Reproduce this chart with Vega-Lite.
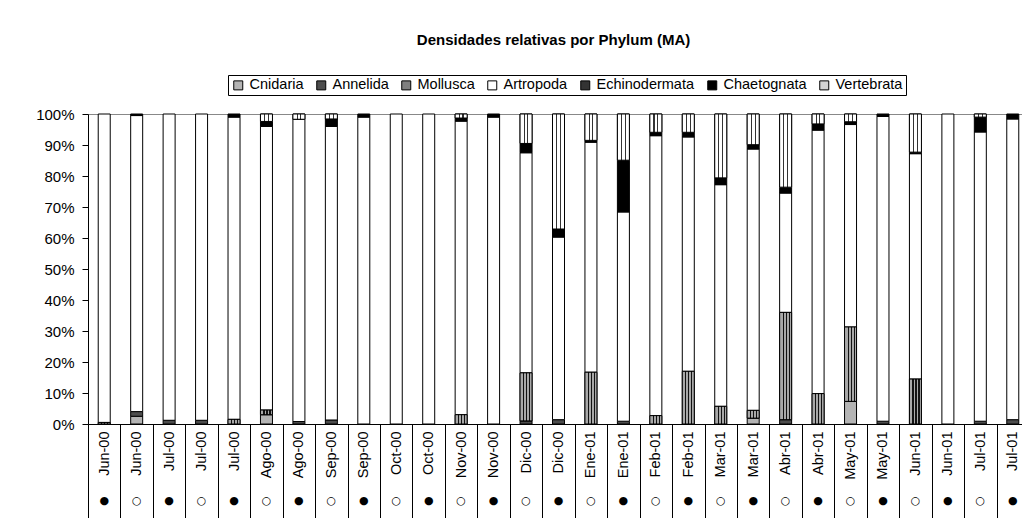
{
  "$schema": "https://vega.github.io/schema/vega-lite/v6.json",
  "width": 941,
  "height": 310,
  "autosize": {"type": "none"},
  "padding": {"left": 88, "top": 114, "right": 10, "bottom": 110},
  "background": "white",
  "title": {"text": "Densidades relativas por Phylum (MA)", "font": "Liberation Sans", "fontSize": 15, "fontWeight": "bold", "color": "black", "anchor": "middle", "offset": 27, "dx": -5},
  "data": {"values": [
    {"cat": "01|Jun-00|●", "Cnidaria": 0, "Annelida": 0, "Mollusca": 0.5, "Artropoda": 99.5, "Echinodermata": 0, "Chaetognata": 0, "Vertebrata": 0},
    {"cat": "02|Jun-00|○", "Cnidaria": 2.5, "Annelida": 1.5, "Mollusca": 0, "Artropoda": 95.5, "Echinodermata": 0, "Chaetognata": 0.5, "Vertebrata": 0},
    {"cat": "03|Jul-00|●", "Cnidaria": 0, "Annelida": 1.2, "Mollusca": 0, "Artropoda": 98.8, "Echinodermata": 0, "Chaetognata": 0, "Vertebrata": 0},
    {"cat": "04|Jul-00|○", "Cnidaria": 0, "Annelida": 1.2, "Mollusca": 0, "Artropoda": 98.8, "Echinodermata": 0, "Chaetognata": 0, "Vertebrata": 0},
    {"cat": "05|Jul-00|●", "Cnidaria": 0, "Annelida": 0, "Mollusca": 1.5, "Artropoda": 97.5, "Echinodermata": 0, "Chaetognata": 1.0, "Vertebrata": 0},
    {"cat": "06|Ago-00|○", "Cnidaria": 3, "Annelida": 0, "Mollusca": 1.5, "Artropoda": 91.5, "Echinodermata": 0, "Chaetognata": 1.6, "Vertebrata": 2.4},
    {"cat": "07|Ago-00|●", "Cnidaria": 0, "Annelida": 0.8, "Mollusca": 0, "Artropoda": 97.5, "Echinodermata": 0, "Chaetognata": 0, "Vertebrata": 1.7},
    {"cat": "08|Sep-00|○", "Cnidaria": 0, "Annelida": 1.3, "Mollusca": 0, "Artropoda": 94.7, "Echinodermata": 0, "Chaetognata": 2.4, "Vertebrata": 1.6},
    {"cat": "09|Sep-00|●", "Cnidaria": 0, "Annelida": 0, "Mollusca": 0, "Artropoda": 99, "Echinodermata": 0, "Chaetognata": 1, "Vertebrata": 0},
    {"cat": "10|Oct-00|○", "Cnidaria": 0, "Annelida": 0, "Mollusca": 0, "Artropoda": 100, "Echinodermata": 0, "Chaetognata": 0, "Vertebrata": 0},
    {"cat": "11|Oct-00|●", "Cnidaria": 0, "Annelida": 0, "Mollusca": 0, "Artropoda": 100, "Echinodermata": 0, "Chaetognata": 0, "Vertebrata": 0},
    {"cat": "12|Nov-00|○", "Cnidaria": 0, "Annelida": 0, "Mollusca": 3, "Artropoda": 94.7, "Echinodermata": 0, "Chaetognata": 1, "Vertebrata": 1.3},
    {"cat": "13|Nov-00|●", "Cnidaria": 0, "Annelida": 0, "Mollusca": 0, "Artropoda": 99, "Echinodermata": 0, "Chaetognata": 1, "Vertebrata": 0},
    {"cat": "14|Dic-00|○", "Cnidaria": 0, "Annelida": 1, "Mollusca": 15.5, "Artropoda": 71, "Echinodermata": 0, "Chaetognata": 3, "Vertebrata": 9.5},
    {"cat": "15|Dic-00|●", "Cnidaria": 0, "Annelida": 1.4, "Mollusca": 0, "Artropoda": 58.9, "Echinodermata": 0, "Chaetognata": 2.6, "Vertebrata": 37.1},
    {"cat": "16|Ene-01|○", "Cnidaria": 0, "Annelida": 0, "Mollusca": 16.7, "Artropoda": 74.2, "Echinodermata": 0, "Chaetognata": 0.6, "Vertebrata": 8.5},
    {"cat": "17|Ene-01|●", "Cnidaria": 0, "Annelida": 0.9, "Mollusca": 0, "Artropoda": 67.5, "Echinodermata": 0, "Chaetognata": 16.7, "Vertebrata": 14.9},
    {"cat": "18|Feb-01|○", "Cnidaria": 0, "Annelida": 0, "Mollusca": 2.7, "Artropoda": 90.3, "Echinodermata": 0, "Chaetognata": 1.1, "Vertebrata": 5.9},
    {"cat": "19|Feb-01|●", "Cnidaria": 0, "Annelida": 0, "Mollusca": 17, "Artropoda": 75.6, "Echinodermata": 0, "Chaetognata": 1.5, "Vertebrata": 5.9},
    {"cat": "20|Mar-01|○", "Cnidaria": 0, "Annelida": 0, "Mollusca": 5.7, "Artropoda": 71.5, "Echinodermata": 0, "Chaetognata": 2.2, "Vertebrata": 20.6},
    {"cat": "21|Mar-01|●", "Cnidaria": 1.9, "Annelida": 0, "Mollusca": 2.5, "Artropoda": 84.3, "Echinodermata": 0, "Chaetognata": 1.4, "Vertebrata": 9.9},
    {"cat": "22|Abr-01|○", "Cnidaria": 0, "Annelida": 1.4, "Mollusca": 34.6, "Artropoda": 38.5, "Echinodermata": 0, "Chaetognata": 1.9, "Vertebrata": 23.6},
    {"cat": "23|Abr-01|●", "Cnidaria": 0, "Annelida": 0, "Mollusca": 9.8, "Artropoda": 85, "Echinodermata": 0, "Chaetognata": 2, "Vertebrata": 3.2},
    {"cat": "24|May-01|○", "Cnidaria": 7.3, "Annelida": 0, "Mollusca": 24, "Artropoda": 65.3, "Echinodermata": 0, "Chaetognata": 0.9, "Vertebrata": 2.5},
    {"cat": "25|May-01|●", "Cnidaria": 0, "Annelida": 0.9, "Mollusca": 0, "Artropoda": 98.3, "Echinodermata": 0, "Chaetognata": 0.8, "Vertebrata": 0},
    {"cat": "26|Jun-01|○", "Cnidaria": 0, "Annelida": 0, "Mollusca": 14.5, "Artropoda": 72.7, "Echinodermata": 0, "Chaetognata": 0.5, "Vertebrata": 12.3},
    {"cat": "27|Jun-01|●", "Cnidaria": 0, "Annelida": 0, "Mollusca": 0, "Artropoda": 100, "Echinodermata": 0, "Chaetognata": 0, "Vertebrata": 0},
    {"cat": "28|Jul-01|○", "Cnidaria": 0, "Annelida": 0.9, "Mollusca": 0, "Artropoda": 93.3, "Echinodermata": 0, "Chaetognata": 4.8, "Vertebrata": 1},
    {"cat": "29|Jul-01|●", "Cnidaria": 0, "Annelida": 1.4, "Mollusca": 0, "Artropoda": 97, "Echinodermata": 0, "Chaetognata": 1.6, "Vertebrata": 0}
  ]},
  "transform": [
    {"fold": ["Cnidaria", "Annelida", "Mollusca", "Artropoda", "Echinodermata", "Chaetognata", "Vertebrata"], "as": ["phylum", "value"]},
    {"filter": "datum.value > 0"},
    {"calculate": "indexof(['Cnidaria', 'Annelida', 'Mollusca', 'Artropoda', 'Echinodermata', 'Chaetognata', 'Vertebrata'], datum.phylum)", "as": "rank"}
  ],
  "layer": [
    {
      "mark": {"type": "bar", "width": 12, "stroke": "black", "strokeWidth": 1},
      "encoding": {
        "x": {"field": "cat", "type": "nominal", "sort": null,
              "scale": {"paddingInner": 0, "paddingOuter": 0},
              "axis": {"orient": "bottom", "title": null, "labelExpr": "split(datum.value, '|')[1]", "labelAngle": -90, "labelAlign": "right", "labelBaseline": "middle",
                       "labelFont": "Liberation Sans", "labelFontSize": 14.5, "labelColor": "black", "labelPadding": -113, "labelOverlap": false,
                       "tickBand": "extent", "tickSize": 120, "tickColor": "black", "tickWidth": 1, "domainColor": "black", "domainWidth": 1}},
        "y": {"field": "value", "type": "quantitative", "stack": "normalize",
              "axis": {"orient": "left", "title": null, "format": ".0%", "values": [0, 0.1, 0.2, 0.3, 0.4, 0.5, 0.6, 0.7, 0.8, 0.9, 1], "grid": false,
                       "labelFont": "Liberation Sans", "labelFontSize": 15, "labelColor": "black", "labelPadding": 8,
                       "tickSize": 6, "tickColor": "black", "domainColor": "black"}},
        "order": {"field": "rank", "type": "quantitative", "sort": "ascending"},
        "color": {"field": "phylum", "type": "nominal",
                  "scale": {"domain": ["Cnidaria", "Annelida", "Mollusca", "Artropoda", "Echinodermata", "Chaetognata", "Vertebrata"],
                            "range": ["#b4b4b4", "#4d4d4d", "#808080", "#ffffff", "#333333", "#000000", "#d4d4d4"]},
                  "legend": {"title": null, "orient": "none", "legendX": 140, "legendY": -39, "direction": "horizontal", "columns": 7,
                             "symbolType": "square", "symbolSize": 81, "symbolStrokeColor": "black", "symbolStrokeWidth": 1,
                             "labelFont": "Liberation Sans", "labelFontSize": 14.5, "labelColor": "black", "labelOffset": 4,
                             "columnPadding": 10, "padding": 3, "strokeColor": "black"}}
      }
    },
    {
      "transform": [
        {"stack": "value", "groupby": ["cat"], "sort": [{"field": "rank", "order": "ascending"}], "offset": "normalize", "as": ["v0", "v1"]},
        {"filter": "datum.phylum == 'Vertebrata'"}
      ],
      "mark": {"type": "bar", "width": 12, "stroke": "black", "strokeWidth": 1,
               "fill": {"gradient": "linear", "x1": 0, "x2": 1, "y1": 0, "y2": 0,
                        "stops": [{"offset": 0, "color": "#ffffff"}, {"offset": 0.3, "color": "#ffffff"}, {"offset": 0.3, "color": "#333333"}, {"offset": 0.39, "color": "#333333"}, {"offset": 0.39, "color": "#ffffff"}, {"offset": 0.61, "color": "#ffffff"}, {"offset": 0.61, "color": "#333333"}, {"offset": 0.7, "color": "#333333"}, {"offset": 0.7, "color": "#ffffff"}, {"offset": 1, "color": "#ffffff"}]}},
      "encoding": {
        "x": {"field": "cat", "type": "nominal", "sort": null, "axis": null},
        "y": {"field": "v0", "type": "quantitative", "axis": null},
        "y2": {"field": "v1"}
      }
    },
    {
      "transform": [
        {"stack": "value", "groupby": ["cat"], "sort": [{"field": "rank", "order": "ascending"}], "offset": "normalize", "as": ["v0", "v1"]},
        {"filter": "datum.phylum == 'Mollusca'"}
      ],
      "mark": {"type": "bar", "width": 12, "stroke": "black", "strokeWidth": 1,
               "fill": {"gradient": "linear", "x1": 0, "x2": 1, "y1": 0, "y2": 0,
                        "stops": [{"offset": 0, "color": "#a8a8a8"}, {"offset": 0.25, "color": "#a8a8a8"}, {"offset": 0.25, "color": "#111111"}, {"offset": 0.34, "color": "#111111"}, {"offset": 0.34, "color": "#a8a8a8"}, {"offset": 0.5, "color": "#a8a8a8"}, {"offset": 0.5, "color": "#111111"}, {"offset": 0.59, "color": "#111111"}, {"offset": 0.59, "color": "#a8a8a8"}, {"offset": 0.75, "color": "#a8a8a8"}, {"offset": 0.75, "color": "#111111"}, {"offset": 0.84, "color": "#111111"}, {"offset": 0.84, "color": "#a8a8a8"}, {"offset": 1, "color": "#a8a8a8"}]}},
      "encoding": {
        "x": {"field": "cat", "type": "nominal", "sort": null, "axis": null},
        "y": {"field": "v0", "type": "quantitative", "axis": null},
        "y2": {"field": "v1"}
      }
    },
    {
      "mark": {"type": "bar", "opacity": 0},
      "encoding": {
        "x": {"field": "cat", "type": "nominal", "sort": null,
              "axis": {"orient": "bottom", "title": null, "labelExpr": "split(datum.value, '|')[2]", "labelAngle": 0, "labelAlign": "center", "labelBaseline": "top",
                       "labelFont": "DejaVu Sans", "labelFontSize": 11, "labelColor": "black", "labelPadding": 70, "labelOverlap": false,
                       "ticks": false, "domain": false}}
      }
    }
  ],
  "resolve": {"axis": {"x": "independent", "y": "independent"}},
  "config": {"view": {"stroke": "#888888", "strokeWidth": 1}}
}
